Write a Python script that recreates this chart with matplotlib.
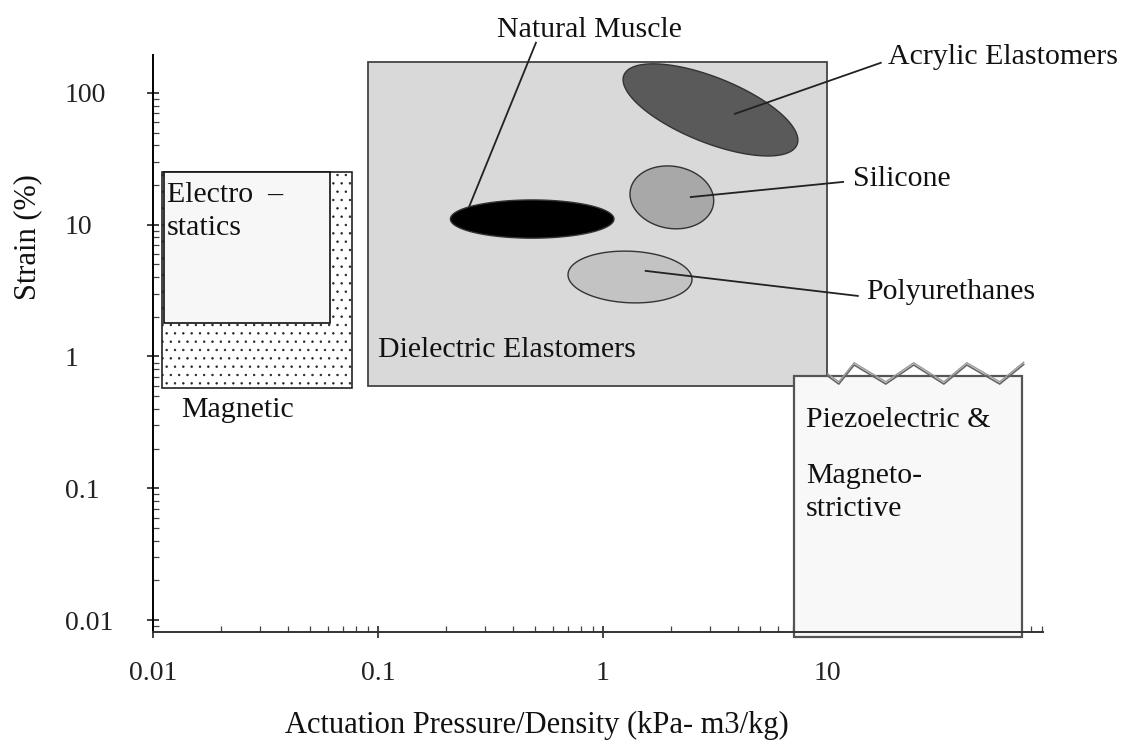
import matplotlib
matplotlib.use("Agg")
import matplotlib.pyplot as plt
import numpy as np
from matplotlib.patches import Rectangle
from matplotlib.ticker import LogLocator, FixedLocator, FixedFormatter, NullFormatter

plt.rcParams["font.family"] = ["Liberation Serif", "DejaVu Serif"]
plt.rcParams["hatch.linewidth"] = 0.5
plt.rcParams["hatch.color"] = "#9a9a9a"

# region boxes: (x_lo, x_hi, y_lo, y_hi) in kPa m3/kg and strain %
magnetic_box = [0.011, 0.077, 0.58, 25.0]
electrostatic_box = [0.0112, 0.061, 1.8, 25.0]
dielectric_box = [0.09, 9.9, 0.60, 172.0]
piezo_box = [7.06, 72.8, 0.0074, 0.71]

# material ellipses: name -> (x_lo, x_hi, y_lo, y_hi, tilt_deg)
ellipse_names = ["Natural Muscle", "Acrylic Elastomers", "Silicone", "Polyurethanes"]
ellipse_x = [(0.21, 1.12), (1.23, 7.36), (1.32, 3.11), (0.70, 2.49)]
ellipse_y = [(7.9, 15.4), (33.2, 166.0), (9.3, 27.9), (2.55, 6.3)]
ellipse_tilt = [0, 41, 6, 5]
ellipse_colors = ["#000000", "#5a5a5a", "#a8a8a8", "#c3c3c3"]

# callout text anchors and leader lines (start at text, end inside ellipse)
label_x = [0.875, 18.5, 12.9, 14.8]
label_y = [300.0, 187.0, 22.2, 3.09]
leader_x = [(0.504, 0.254), (17.2, 3.86), (11.7, 2.46), (13.6, 1.55)]
leader_y = [(240.0, 13.6), (169.0, 69.3), (21.1, 16.2), (2.88, 4.46)]

# broken top edge of the piezo box
zig_x = [10.0, 11.2, 13.1, 18.1, 24.1, 32.8, 41.5, 58.1, 74.3]
zig_y = [0.71, 0.618, 0.862, 0.618, 0.862, 0.618, 0.862, 0.618, 0.87]

x_ticks = [0.01, 0.1, 1, 10]
x_tick_labels = ["0.01", "0.1", "1", "10"]
y_ticks = [0.01, 0.1, 1, 10, 100]
y_tick_labels = ["0.01", "0.1", "1", "10", "100"]


def ellipse_outline(xr, yr, tilt_deg, n=240):
    t = np.linspace(0, 2 * np.pi, n)
    lx0, lx1 = np.log10(xr)
    ly0, ly1 = np.log10(yr)
    cx, rx = (lx0 + lx1) / 2, (lx1 - lx0) / 2
    cy, ry = (ly0 + ly1) / 2, (ly1 - ly0) / 2
    lx = cx + rx * np.cos(t)
    ly = cy + ry * np.sin(t - np.radians(tilt_deg))
    return 10 ** lx, 10 ** ly


def add_box(ax, box, **kw):
    x0, x1, y0, y1 = box
    ax.add_patch(Rectangle((x0, y0), x1 - x0, y1 - y0, **kw))


fig = plt.figure(figsize=(11.25, 7.42), dpi=100)
ax = fig.add_axes([0.136, 0.148, 0.791, 0.778])
ax.set_xscale("log")
ax.set_yscale("log")
ax.set_xlim(0.01, 90.4)
ax.set_ylim(0.0081, 194)

for side in ["top", "right"]:
    ax.spines[side].set_visible(False)
ax.spines["left"].set_linewidth(1.4)
ax.spines["bottom"].set_linewidth(1.4)
ax.spines["bottom"].set_color("#333333")

add_box(ax, magnetic_box, facecolor="white", edgecolor="#222222", hatch="..", lw=1.2, zorder=2)
add_box(ax, electrostatic_box, facecolor="#f7f7f7", edgecolor="#111111", lw=1.2, zorder=3)
add_box(ax, dielectric_box, facecolor="#d9d9d9", edgecolor="#444444", lw=1.3, zorder=2)
add_box(ax, piezo_box, facecolor="#f8f8f8", edgecolor="#555555", lw=1.6, zorder=2, clip_on=False)

ax.plot(zig_x, zig_y, color="#666666", lw=1.2, zorder=3, clip_on=False)
ax.plot(zig_x, [v * 1.04 for v in zig_y], color="#999999", lw=1.0, zorder=3, clip_on=False)

for xr, yr, tilt, col in zip(ellipse_x, ellipse_y, ellipse_tilt, ellipse_colors):
    ex, ey = ellipse_outline(xr, yr, tilt)
    ax.fill(ex, ey, facecolor=col, edgecolor="#333333", lw=1.0, zorder=4)

for lx, ly in zip(leader_x, leader_y):
    ax.plot(lx, ly, color="#222222", lw=1.3, zorder=5, clip_on=False)

txt = dict(fontsize=21.5, color="#111111", zorder=6)
ax.text(label_x[0], label_y[0], ellipse_names[0], ha="center", va="center", clip_on=False, **txt)
for name, tx, ty in zip(ellipse_names[1:], label_x[1:], label_y[1:]):
    ax.text(tx, ty, name, ha="left", va="center", clip_on=False, **txt)

ax.text(0.1, 1.12, "Dielectric Elastomers", ha="left", va="center", **txt)
ax.text(0.0115, 16.8, "Electro  \u2013", ha="left", va="center", **txt)
ax.text(0.0115, 9.45, "statics", ha="left", va="center", **txt)
ax.text(0.0133, 0.393, "Magnetic", ha="left", va="center", **txt)
ax.text(7.98, 0.33, "Piezoelectric &", ha="left", va="center", **txt)
ax.text(7.98, 0.124, "Magneto-", ha="left", va="center", **txt)
ax.text(7.98, 0.0697, "strictive", ha="left", va="center", **txt)

ax.xaxis.set_major_locator(FixedLocator(x_ticks))
ax.xaxis.set_major_formatter(FixedFormatter(x_tick_labels))
ax.xaxis.set_minor_locator(LogLocator(base=10, subs=np.arange(2, 10)))
ax.xaxis.set_minor_formatter(NullFormatter())
ax.yaxis.set_major_locator(FixedLocator(y_ticks))
ax.yaxis.set_major_formatter(FixedFormatter(y_tick_labels))
ax.yaxis.set_minor_locator(LogLocator(base=10, subs=np.arange(2, 10)))
ax.yaxis.set_minor_formatter(NullFormatter())

ax.tick_params(axis="both", which="major", direction="inout", length=9, width=1.2,
               labelsize=20, colors="#222222")
ax.tick_params(axis="both", which="minor", direction="in", length=4, width=0.9, colors="#444444")
ax.tick_params(axis="x", which="major", pad=16)
ax.tick_params(axis="y", which="major", pad=59)
for lbl in ax.get_yticklabels():
    lbl.set_horizontalalignment("left")

ax.set_xlabel("Actuation Pressure/Density (kPa- m3/kg)", fontsize=22, color="#111111")
ax.set_ylabel("Strain (%)", fontsize=22, color="#111111")
ax.xaxis.set_label_coords(0.431, -0.136)
ax.yaxis.set_label_coords(-0.125, 0.685)

fig.savefig("out.png", dpi=100)
